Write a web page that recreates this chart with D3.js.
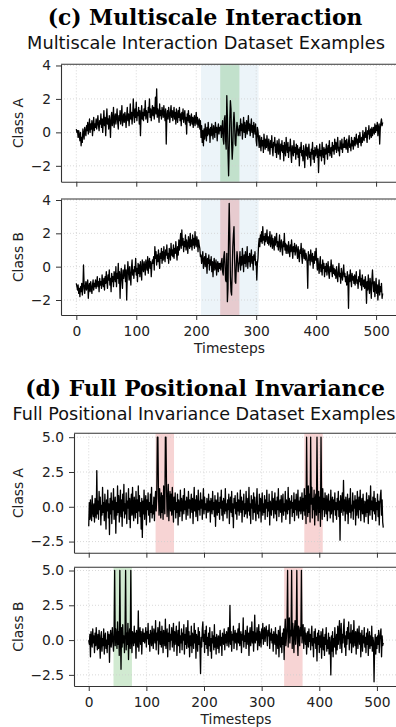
<!DOCTYPE html>
<html>
<head>
<meta charset="utf-8">
<script src="https://cdn.jsdelivr.net/npm/d3@7"></script>
<style>
  body { margin: 0; background: #fff; }
</style>
</head>
<body>
<div id="chart"></div>
<script>
// ---- data ----
const timestepTicks = [0, 100, 200, 300, 400, 500];
const multiscaleYTicks = [-2, 0, 2, 4];
const positionalYTicks = [-2.5, 0, 2.5, 5];

// shaded windows: [start, end, kind]
const multiscaleSpansA = [[208, 304, "context"], [240, 272, "motif1"]];
const multiscaleSpansB = [[208, 304, "context"], [240, 272, "motif2"]];
const positionalSpansA = [[116, 148, "motif2"], [374, 406, "motif2"]];
const positionalSpansB = [[43, 75, "motif1"], [339, 371, "motif2"]];

const multiscaleA = [
  0.2, 0.0, 0.1, -0.3, 0.1, -0.2, -0.5, 0.0, -0.8, -0.3, -0.6, 0.2, -0.1, -0.4, 0.3, 0.0,
  -0.2, 0.4, 0.1, 0.6, -0.1, 0.3, 0.8, 0.0, 0.5, 0.2, 0.7, -0.2, 0.4, 0.9, 0.1, 0.5,
  0.3, 0.8, 0.2, 0.6, 1.0, 0.4, 0.1, 0.7, 0.5, 1.1, 0.3, 0.8, 0.0, 0.6, 1.3, 0.4,
  0.9, -0.2, 0.7, 1.4, 0.5, 0.8, 0.2, 1.0, 0.6, -0.3, 0.9, 1.2, 0.4, 0.7, 1.5, 0.3,
  0.8, 1.1, 0.5, 0.9, 1.4, 0.6, 0.2, 1.0, 0.7, 1.3, 0.5, 0.9, 1.6, 0.4, 0.8, 1.1,
  0.6, 1.2, 0.9, 0.3, 1.0, 1.5, 0.7, 1.1, 0.4, 0.9, 1.7, 0.8, 1.2, 0.5, 1.0, 2.0,
  1.1, 0.6, 1.4, 0.9, 1.8, 0.7, 1.2, 1.0, 1.5, 0.5, 1.3, -0.2, 1.0, 1.6, 0.8, 1.2,
  0.7, 1.4, 1.0, 1.9, 0.8, 1.3, 1.1, 0.6, 1.5, 1.2, 2.0, 0.9, 1.4, 0.7, 1.2, 1.6,
  1.0, 1.5, 0.8, 1.3, 2.1, 1.1, 2.6, 0.9, 1.4, 1.2, 0.6, 1.7, 1.0, 1.3, 0.8, 1.5,
  1.2, 0.9, 1.6, 1.1, 0.7, 1.4, -0.7, 1.0, 1.3, 0.8, 1.5, 1.1, 0.6, 1.2, 1.6, 0.9,
  1.3, 0.7, 1.1, 1.5, 0.8, 1.2, 0.5, 1.4, 1.0, 0.6, 1.3, 0.9, 1.5, 0.7, 1.1, 0.4,
  1.2, 0.8, 1.4, 0.6, 1.0, 1.3, 0.5, 0.9, -0.1, 1.1, 0.7, 1.3, 0.6, 1.0, 0.4, 0.8,
  1.1, 0.5, 0.9, 0.3, 0.8, 1.0, 0.4, 0.7, 1.2, 0.5, 0.9, 0.3, 0.6, 0.8, 0.2, 0.7,
  -0.3, 0.4, -0.6, 0.1, -0.8, 0.2, -0.4, 0.5, 0.0, -0.5, 0.3, -0.2, 0.6, -0.1, 0.2, -0.6,
  0.3, -0.2, 0.5, 0.0, -0.4, 0.4, 0.1, -0.3, 0.6, 0.0, 0.3, -0.5, 0.2, 0.5, -0.1, 0.3,
  0.1, 0.4, -0.3, 0.2, 0.7, -0.4, -0.7, 0.8, 1.0, -0.5, -1.0, 2.2, 0.9, -1.2, -2.6, -1.0,
  0.8, 1.9, 1.4, -0.6, -1.6, -0.9, 0.6, 1.2, 0.5, -0.7, -0.8, 0.1, 0.6, 0.2, -0.2, 0.1,
  0.4, -0.2, 0.8, 0.1, 0.5, -0.4, 0.3, 0.9, 0.0, 0.6, -0.3, 0.2, 0.7, -0.1, 0.4, 1.0,
  0.1, 0.5, -0.2, 0.3, 0.8, 0.0, 0.4, -0.3, 0.6, 0.2, -0.1, 0.5, -0.5, -0.8, 0.3, 0.1,
  -0.4, -0.9, -0.2, -0.7, -1.1, -0.3, -0.8, -0.5, -1.2, -0.1, -0.6, -1.0, -0.4, -0.9, -0.2, -0.7,
  -1.1, -0.4, -0.8, -1.3, -0.5, -0.9, -0.2, -1.0, -1.4, -0.6, -0.8, -0.3, -1.2, -0.7, -1.5, -0.5,
  -0.9, -1.3, -0.4, -1.0, -1.6, -0.7, -1.1, -0.5, -1.2, -0.8, -1.7, -0.6, -1.0, -1.4, -0.3, -0.9,
  -1.2, -0.6, -1.5, -0.9, -1.1, -0.4, -1.3, -1.8, -0.8, -1.0, -1.4, -0.5, -1.2, -0.9, -1.6, -0.7,
  -1.3, -0.8, -1.5, -1.0, -2.0, -0.9, -1.2, -0.6, -1.4, -1.1, -1.7, -0.8, -1.3, -2.1, -1.0, -0.7,
  -1.4, -0.9, -1.6, -1.1, -0.7, -1.5, -1.2, -2.0, -1.0, -1.3, -0.6, -1.6, -1.1, -1.8, -0.9, -1.4,
  -1.2, -0.8, -1.5, -1.0, -2.4, -1.3, -0.7, -1.4, -1.1, -1.7, -0.6, -1.2, -1.5, -0.9, -1.9, -1.0,
  -1.3, -0.7, -1.1, -1.6, -0.8, -1.2, -0.5, -1.4, -1.0, -0.9, -1.5, -0.6, -1.1, -0.8, -1.3, -0.4,
  -1.0, -0.6, -1.2, -0.8, -0.3, -1.1, -0.9, -1.4, -0.5, -0.8, -1.0, -0.4, -1.2, -0.7, -0.9, -0.3,
  -0.9, -0.5, -1.0, -0.4, -0.8, -1.2, -0.6, -0.2, -0.9, -0.7, -1.1, -0.3, -0.8, -0.5, -1.0, -0.6,
  -0.3, -0.8, -0.5, -0.1, -0.7, -0.4, -0.9, -0.2, -0.6, 0.0, -0.5, -0.8, -0.3, -0.6, 0.1, -0.4,
  -0.5, 0.0, -0.3, 0.3, -0.2, -0.6, 0.1, -0.1, 0.4, -0.4, 0.0, 0.2, -0.3, 0.3, -0.2, 0.1,
  0.3, -0.1, 0.5, 0.0, 0.4, 0.1, 0.6, -0.2, 0.3, 0.5, -0.7, 0.2, 0.6, 0.8, 0.4, 0.6
];

const multiscaleB = [
  -1.0, -1.2, -1.4, -1.1, -1.6, -1.3, -1.8, -1.2, -1.5, -1.0, -1.7, -1.3, 0.1, -1.1, -1.6, -1.2,
  -0.9, -1.4, -1.1, -0.8, -1.9, -1.2, -1.0, -1.5, -0.9, -1.3, -1.6, -1.1, -0.8, -1.4, -1.0, -1.2,
  -0.8, -1.3, -1.0, -0.6, -1.2, -0.9, -1.5, -0.7, -1.1, -0.9, -1.3, -0.5, -1.0, -1.2, -0.7, -1.4,
  -0.6, -1.0, -0.3, -0.9, -1.3, -0.5, -0.8, -0.2, -1.1, -0.7, -1.5, -0.4, -0.9, -0.6, -1.2, -0.3,
  -0.5, -0.9, 0.0, -1.2, -0.4, -0.7, 0.2, -1.0, -0.3, -1.9, -0.6, -0.1, -0.8, -1.3, -0.2, -0.7,
  -0.4, 0.1, -0.9, -0.2, -2.0, -0.5, 0.3, -0.3, -0.8, 0.0, -0.6, -1.1, -0.1, 0.4, -0.5, -0.2,
  -0.7, 0.0, -0.3, 0.5, -0.5, -0.1, -0.9, 0.2, -0.4, 0.1, -0.6, 0.3, -0.2, -0.8, 0.4, 0.0,
  -0.3, 0.3, 0.0, -0.5, 0.4, 0.1, -0.2, 0.6, -0.4, 0.2, 0.5, -0.1, 0.3, -0.6, 0.1, 0.4,
  0.2, 0.6, -0.2, 1.2, 0.5, 0.9, 0.1, 0.7, 0.3, 1.0, 0.4, -0.1, 0.8, 0.5, 1.1, 0.2,
  0.9, 0.4, 1.2, 0.6, 0.3, 1.0, 0.7, 1.3, 0.5, 0.8, 0.2, 1.1, 0.9, 0.4, 1.4, 0.7,
  1.0, 0.6, 1.3, 0.5, 1.1, 0.8, 1.5, 0.9, 0.4, 1.2, 0.7, 1.6, 1.0, 1.4, 2.0, 1.1,
  2.2, 1.3, 1.7, 0.9, 1.5, 1.2, 1.9, 1.0, 1.6, 1.3, 0.8, 1.8, 1.4, 1.1, 2.0, 1.2,
  1.6, 1.0, 1.9, 1.3, 1.7, 1.1, 2.1, 1.4, 1.2, 1.8, 1.5, 0.9, 1.6, 1.3, 1.1, 0.6,
  0.7, 0.2, 0.5, 0.9, -0.1, 0.4, 0.6, 0.0, 0.8, 0.3, -0.4, 0.5, 0.2, 0.7, -0.2, 0.4,
  0.1, 0.6, -0.3, 0.3, -0.6, 0.2, 0.5, -0.2, 0.0, 0.4, -0.5, 0.1, 0.3, -0.3, 0.2, -0.1,
  0.2, -0.2, 0.3, 0.5, -0.3, -0.5, 0.6, 0.9, 0.2, -0.8, -0.9, 0.8, -2.1, -1.3, 1.8, 3.8,
  2.0, -0.6, -1.5, -1.7, -0.3, 1.2, 1.9, 2.4, 0.5, -0.9, -1.0, 0.2, 0.9, 0.5, -0.3, 0.1,
  0.3, 0.9, -0.2, 0.6, 0.1, 1.1, 0.4, -0.3, 0.7, 0.2, 0.9, 0.0, 0.5, 1.2, -0.1, 0.6,
  0.3, 0.8, 0.0, 0.5, 1.0, 0.2, 0.6, -0.2, 0.7, 0.4, 0.9, 0.1, 0.3, -0.8, 0.2, 0.5,
  1.3, 1.7, 1.2, 1.9, 1.5, 2.1, 1.4, 2.4, 1.6, 1.8, 1.3, 2.0, 1.5, 1.7, 2.2, 1.4,
  1.8, 1.3, 1.6, 2.1, 1.2, 1.5, 1.9, 1.1, 1.7, 1.4, 1.0, 1.8, 1.3, 1.6, 2.0, 1.2,
  1.5, 1.0, 1.4, 1.9, 0.9, 1.3, 1.6, 1.1, 0.7, 1.5, 1.2, 2.0, 1.0, 1.4, 0.8, 1.3,
  1.2, 0.8, 1.5, 1.0, 0.6, 1.3, 0.9, 1.6, 1.1, 0.5, 1.2, 0.9, 1.4, 0.7, 1.0, 1.3,
  0.9, 0.5, 1.2, 0.7, 0.3, 1.0, 0.8, 1.4, 0.6, 0.2, 1.1, 0.9, 0.5, 1.0, 0.4, 0.8,
  0.6, 0.2, -1.3, 0.9, 0.4, 0.7, 0.1, 1.0, 0.5, 0.3, 0.8, -0.1, 0.6, 0.2, 0.9, 0.4,
  1.1, 0.3, -0.2, 0.5, 0.0, -0.4, 0.2, 0.6, -0.3, 0.1, -0.5, 0.4, -0.1, 0.2, -0.6, 0.0,
  -0.3, 0.2, -0.5, -0.1, 0.3, -0.4, -0.7, 0.0, -0.3, 0.4, -0.2, -0.6, 0.1, -0.4, -0.1, -0.5,
  -0.2, -0.7, 0.0, -0.5, -0.9, -0.3, 0.2, -0.6, -0.4, -1.0, -0.1, -0.5, -0.8, -0.3, 0.1, -0.6,
  -0.4, -0.9, -0.6, -1.1, -0.3, -0.8, -2.5, -0.5, -0.9, -0.2, -0.7, -1.2, -0.4, -0.8, -0.6, -1.0,
  -0.5, -1.1, -0.7, -0.3, -1.0, -0.8, -1.3, -0.6, -0.9, -0.2, -1.1, -0.7, -1.4, -0.5, -0.9, -1.2,
  -0.8, -1.3, -0.6, -1.0, -2.2, -0.9, -1.4, -0.5, -1.2, -1.6, -0.7, -1.1, -1.9, -0.8, -0.2, -1.0,
  -1.5, -0.9, -1.8, -1.2, -0.7, -1.6, -1.1, -2.0, -1.3, -0.8, -1.7, -1.2, -1.5, -1.0, -1.9, -1.6
];

const positionalA = [
  -1.4, 0.3, -0.9, 0.5, -0.6, -1.0, 0.8, -0.3, -0.7, 0.2, -1.1, 0.6, -0.4, -0.8, 2.6, -0.5,
  0.4, -0.9, 1.1, -0.2, 0.7, -1.3, 0.1, -0.6, 1.4, -0.4, 0.3, -1.0, 0.9, -0.1, -1.6, 0.5,
  -0.3, 1.2, -0.8, 0.2, -2.0, 0.6, -0.5, 1.0, -1.2, 0.4, -0.2, 1.3, -0.9, 0.1, 0.7, -1.9,
  0.3, -0.6, 1.5, -0.4, 0.8, -1.1, 0.0, 1.2, -0.7, 0.5, -1.4, 0.9, -0.3, 1.6, -0.8, 0.2,
  -0.5, 1.0, -1.2, 0.4, -0.1, 1.3, -0.9, 0.6, -1.5, 0.2, 0.9, -0.6, 1.4, -0.2, -1.0, 0.7,
  0.1, -0.8, 1.1, -0.4, 0.5, -1.2, 1.5, -0.3, 0.8, -0.7, 0.3, -1.6, 0.6, -2.2, 0.4, -0.5,
  1.2, -0.9, 0.2, 0.8, -1.3, 0.5, -0.2, 1.0, -0.6, 0.3, -1.1, 0.9, -0.4, 1.4, -0.8, 0.1,
  -0.5, 0.7, -1.0, 0.4, 1.1, -0.3, 0.6, 5.0, 5.0, 0.9, -0.6, 1.3, 0.2, -0.8, 1.0, -0.4,
  0.8, -0.9, 1.5, 0.3, -0.5, 5.0, 5.0, 1.2, -0.7, 0.6, 1.6, -1.0, 0.4, 1.1, -0.3, 0.9,
  -0.6, 1.4, 0.1, -1.1, 0.7, -0.2, 1.0, -0.8, 0.3, -0.4, 0.9, -1.3, 0.5, 0.0, -0.7, 1.2,
  -0.3, 0.6, -1.0, 0.2, 0.8, -0.5, 1.3, -0.2, 0.4, -0.9, 0.7, 0.1, -0.6, 1.1, -0.1, 0.5,
  -0.8, 0.3, 0.9, -0.4, 0.6, -1.2, 0.2, 1.4, -0.3, 0.5, -0.7, 0.8, 0.0, -1.0, 1.2, -0.2,
  0.4, -0.6, 1.0, -0.1, 0.5, -0.9, 0.3, 1.3, -0.5, 0.7, -0.2, 0.2, -0.8, 0.6, 0.0, -0.4,
  0.9, -0.3, 0.4, -1.1, 0.6, 0.1, -0.5, 1.1, -0.2, 0.3, -0.7, 0.8, -1.4, 0.5, 0.2, -0.6,
  1.0, -0.4, 0.3, -0.9, 0.7, -0.1, 1.2, -0.6, 0.4, -1.0, 0.6, 0.0, -0.5, 1.3, -0.3, 0.2,
  -0.8, 0.5, -0.2, 0.9, -1.2, 0.3, 0.7, -0.4, 1.1, -0.7, 0.2, -1.5, 0.6, -0.1, 0.8, -0.5,
  0.3, -0.9, 1.0, -0.3, 0.5, -0.6, 0.1, 1.2, -0.4, 0.7, -1.1, 0.4, -0.2, 0.9, -0.7, 0.2,
  -0.5, 1.1, 0.0, -0.8, 0.6, -0.3, 1.4, -0.6, 0.2, -1.2, 0.8, -0.1, 0.5, -0.9, 1.0, -0.4,
  0.7, -0.2, -1.0, 0.4, 1.3, -0.5, 0.1, -0.8, 0.9, -0.3, 0.6, -1.1, 0.3, 1.0, -0.6, 0.2,
  -0.4, 0.8, -0.9, 0.5, -0.1, 1.2, -0.7, 0.3, -0.3, 0.9, -1.3, 0.4, 0.0, -0.6, 1.1, -0.2,
  0.6, -0.8, 0.2, 1.0, -0.5, 0.4, -1.0, 0.7, -0.2, 1.3, -0.7, 0.1, 0.5, -0.4, 0.8, -1.1,
  0.3, 0.9, -0.6, 0.2, -0.3, 1.1, -0.9, 0.5, 0.0, -0.5, 1.4, -0.2, 0.6, -1.2, 0.4, -0.1,
  0.8, -0.7, 0.3, -0.4, 1.0, -1.0, 0.5, -0.2, 0.9, -0.6, 0.2, 1.2, -0.8, 0.4, -0.3, 0.7,
  -0.5, 0.1, 1.0, -0.9, 0.6, -0.3, 1.3, -0.6, 0.8, -1.2, 5.0, 0.4, -0.7, 1.5, -0.4, 0.9,
  -1.1, 5.0, 0.2, 1.4, -0.8, 0.6, -0.2, 1.2, -1.3, 0.5, 0.9, -0.6, 5.0, 0.3, -1.0, 1.1,
  -0.4, 0.7, -1.4, 5.0, 0.5, -0.9, 1.3, -0.2, 0.6, -0.7, 1.0, 0.1, -0.5, 0.8, -1.0, 0.3,
  0.9, -0.3, 0.4, -0.8, 1.2, -0.5, 0.2, 0.7, -1.1, 0.5, -0.2, 1.0, -0.6, 0.3, -0.9, 0.6,
  -0.2, 1.1, -0.7, 0.4, -2.4, 0.8, -0.4, 0.2, 1.0, -0.6, 1.9, -0.3, 0.5, -1.0, 0.7, 0.0,
  -0.5, 0.9, -1.2, 0.3, 0.6, -0.4, 1.3, -0.8, 0.1, -0.3, 1.0, -0.9, 0.4, -0.1, 0.8, -1.3,
  0.5, -0.6, 1.1, 0.0, -0.8, 0.7, -0.2, 1.2, -1.0, 0.3, 0.6, -0.5, 0.9, -0.3, -1.1, 0.4,
  0.2, -0.7, 1.0, -0.4, 0.5, -1.2, 0.8, 0.1, -0.6, 1.5, -0.2, 0.4, -0.9, 0.7, -0.3, 1.1,
  -0.5, 0.6, -1.0, 0.3, -0.2, 0.9, -0.7, 0.4, -1.3, 0.2, 0.8, 1.2, -0.6, 0.5, -1.1, -1.5
];

const positionalB = [
  0.0, -0.3, 0.4, -1.2, 0.6, 0.1, -0.5, 0.8, -0.2, 0.3, -0.9, 0.5, -0.4, 0.9, -0.1, -0.7,
  0.4, -0.6, 0.7, -0.2, -1.3, 0.3, 0.6, -0.8, 0.1, -0.4, 0.8, -1.0, 0.2, 0.5, -0.6, 0.0,
  -0.9, 0.6, -0.3, 0.4, -1.6, 0.2, 0.7, -0.5, 0.1, 0.9, -0.2, -0.8, 0.5, 5.0, -0.4, 0.8,
  0.2, -0.6, 1.3, -0.3, 0.6, -1.1, 5.0, 0.4, -2.1, 0.9, -0.5, 1.1, -0.2, 0.3, -0.9, 0.7,
  5.0, -0.7, 0.5, -0.3, 1.2, -1.4, 0.2, 0.8, -0.6, 5.0, 0.1, -0.9, 0.6, 0.3, -0.4, 1.0,
  -0.2, 0.5, -1.3, 0.7, 0.0, -0.5, 2.1, -0.8, 0.4, 0.9, -0.3, 0.6, -1.0, 0.2, 0.8, -0.1,
  0.5, -0.2, 0.3, 0.9, -0.5, 0.6, 0.1, 1.2, -0.3, 0.4, -0.8, 0.7, 0.2, -0.4, 1.0, 0.0,
  -0.6, 0.8, 0.3, -0.2, 1.4, -0.7, 0.5, 0.0, 0.9, -1.0, 0.4, 1.3, -0.3, 0.6, -0.5, 1.0,
  0.2, -0.9, 0.7, 0.1, -0.4, 1.5, -0.6, 0.3, 0.8, -1.2, 0.5, -0.1, 1.1, -0.7, 0.4, 0.0,
  0.9, -0.5, 0.2, 1.2, -0.8, 0.6, -0.3, 0.4, 1.0, -1.1, 0.1, 0.7, -0.4, 1.3, -0.9, 0.3,
  -0.2, 0.8, -0.7, 0.5, 0.0, 1.1, -1.0, 0.4, -0.3, 0.9, -0.6, 0.2, 1.4, -0.5, 0.6, -1.2,
  0.3, -0.4, 1.0, -0.9, 0.5, 0.1, -0.6, 1.2, -0.2, 0.7, -1.3, 0.4, 0.0, -0.8, 0.9, -0.3,
  0.6, -0.7, -2.4, 0.2, -0.5, 0.8, 1.3, -0.1, 0.4, -0.9, 0.7, -0.3, 1.0, -0.6, 0.2, -1.1,
  0.5, -0.4, 0.9, -0.8, 0.1, -1.3, 0.6, -0.2, 0.3, -0.7, 1.1, -0.5, 0.2, -1.0, 0.4, -0.1,
  -0.6, 0.3, -0.9, 0.0, 0.7, -0.4, 0.2, -1.1, 0.5, 0.1, -0.3, 0.8, -0.7, 0.4, -0.2, 0.6,
  -0.4, 0.3, 0.9, -0.5, 0.1, 2.5, -0.3, 0.6, -0.8, 0.4, 0.0, 1.0, -0.6, 0.2, 0.7, -0.2,
  0.5, -0.7, 0.3, 0.8, -0.2, 1.2, -0.4, 0.1, 0.6, -0.9, 0.4, 0.0, 1.6, -0.5, 0.3, -0.1,
  0.7, -0.6, 0.2, 1.0, -0.3, 0.5, -1.1, 0.4, 0.9, -0.4, 0.1, 1.3, -0.2, 0.6, -0.8, 0.3,
  1.8, -0.2, 0.5, 0.0, 0.9, -0.7, 0.3, 1.1, -0.4, 0.6, 0.2, -0.5, 0.8, 0.1, 1.2, -0.3,
  0.4, 0.9, -0.1, 0.6, 1.0, 0.2, -0.4, 0.7, 0.3, 1.1, -0.6, 0.5, 0.0, 0.8, -0.2, 0.4,
  -0.8, 0.6, 0.1, -0.3, 0.9, -1.0, 0.4, 0.2, -0.6, 0.7, -1.2, 0.3, 1.0, -0.5, 0.2, -0.9,
  0.5, -0.3, 0.8, -1.4, 0.6, 1.5, -0.4, 0.2, 1.0, 5.0, -0.5, 0.9, 1.6, -0.2, 0.7, 0.3,
  5.0, -0.6, 1.2, 0.4, -0.9, 0.8, 1.4, -0.3, 0.6, 5.0, 0.1, -1.1, 1.0, 0.5, -0.4, 0.9,
  0.3, 5.0, -0.2, 0.7, 1.1, -0.6, 0.4, 0.9, -0.3, 0.5, -1.0, 0.2, 0.6, -0.5, 0.8, -0.1,
  0.4, -0.7, 0.3, 1.0, -0.4, 0.1, -1.2, 0.6, -0.2, 0.8, -0.6, 0.2, -1.5, 0.5, -0.3, 0.7,
  -0.9, 0.3, -0.5, 0.6, -1.3, 0.1, 0.8, -0.7, 0.2, -1.1, 0.4, -0.3, 0.9, -0.8, 0.0, -0.6,
  0.5, -1.0, 0.2, -0.4, -2.5, 0.3, -0.8, 0.6, -1.2, 0.1, -0.5, 0.9, -0.2, -1.0, 0.4, -0.7,
  1.0, -0.3, 0.5, 1.4, -0.6, 0.2, 1.2, -0.9, 0.4, -0.2, 0.8, 1.5, -0.5, 0.3, -1.1, 0.6,
  -0.3, 0.9, 0.1, 1.3, -0.7, 0.5, -0.2, 1.1, -0.9, 0.3, 0.7, -0.5, 1.4, 0.0, -0.4, 0.6,
  -1.0, 0.4, 0.8, -0.6, 0.2, 1.0, -0.3, 0.5, -1.2, 0.1, 0.7, -0.8, 0.3, -0.2, 0.9, -0.5,
  0.2, -0.9, 0.5, -0.3, 0.8, -1.1, 0.0, 0.6, -0.6, 0.3, -0.4, 1.0, -0.8, 0.2, -0.1, -3.0,
  -0.5, 0.4, -1.0, 0.2, -0.6, 0.3, -0.3, 0.7, -0.9, 0.1, 0.5, 0.8, -1.2, 0.3, -0.4, -0.2
];

// ---- chart ----
(function() {
  const W = 396, H = 727;
  const FS = 13.8; // tick + axis label size
  const svg = d3.select("#chart").append("svg")
    .attr("width", W).attr("height", H)
    .style("font-family", "'DejaVu Sans', sans-serif");

  const spanFill = { context: "#9ecae1", motif1: "#2ca02c", motif2: "#d62728" };
  const spanAlpha = { context: 0.2, motif1: 0.22, motif2: 0.2 };
  const xDomain = [-25.55, 536.55];

  const fitText = (sel, target) => {
    const w = sel.node().getComputedTextLength();
    const fs = parseFloat(sel.attr("font-size"));
    sel.attr("font-size", fs * target / w);
    return fs * target / w;
  };

  // titles
  const t1 = svg.append("text").attr("x", 205).attr("y", 25).attr("text-anchor", "middle")
    .attr("font-family", "'DejaVu Serif', serif").attr("font-weight", 700).attr("font-size", 20)
    .text("(c) Multiscale Interaction");
  fitText(t1, 315);
  const s1 = svg.append("text").attr("x", 206).attr("y", 48.5).attr("text-anchor", "middle")
    .attr("font-size", 17).attr("fill", "#111")
    .text("Multiscale Interaction Dataset Examples");
  const subSize = fitText(s1, 358);
  const t2 = svg.append("text").attr("x", 205).attr("y", 396).attr("text-anchor", "middle")
    .attr("font-family", "'DejaVu Serif', serif").attr("font-weight", 700).attr("font-size", 20)
    .text("(d) Full Positional Invariance");
  fitText(t2, 360);
  const s2 = svg.append("text").attr("x", 204).attr("y", 420).attr("text-anchor", "middle")
    .attr("font-size", subSize).attr("fill", "#111")
    .text("Full Positional Invariance Dataset Examples");
  if (s2.node().getComputedTextLength() > 383) fitText(s2, 383);

  const panels = [
    { vals: multiscaleA, spans: multiscaleSpansA, label: "Class A", left: 61, top: 64.3, bottom: 181.7,
      yDomain: [-2.95, 4.07], yTicks: multiscaleYTicks, fmt: d3.format("d"), xLabels: false },
    { vals: multiscaleB, spans: multiscaleSpansB, label: "Class B", left: 61, top: 199, bottom: 315,
      yDomain: [-2.9, 4.06], yTicks: multiscaleYTicks, fmt: d3.format("d"), xLabels: true },
    { vals: positionalA, spans: positionalSpansA, label: "Class A", left: 74, top: 433.3, bottom: 552.7,
      yDomain: [-3.3, 5.28], yTicks: positionalYTicks, fmt: d3.format(".1f"), xLabels: false },
    { vals: positionalB, spans: positionalSpansB, label: "Class B", left: 74, top: 567.3, bottom: 686,
      yDomain: [-3.3, 5.23], yTicks: positionalYTicks, fmt: d3.format(".1f"), xLabels: true }
  ];
  const right = 398;

  panels.forEach(p => {
    const x = d3.scaleLinear().domain(xDomain).range([p.left, right]);
    const y = d3.scaleLinear().domain(p.yDomain).range([p.bottom, p.top]);
    const g = svg.append("g");

    // shaded windows
    g.selectAll("rect.span").data(p.spans).join("rect").attr("class", "span")
      .attr("x", d => x(d[0])).attr("width", d => x(d[1]) - x(d[0]))
      .attr("y", p.top).attr("height", p.bottom - p.top)
      .attr("fill", d => spanFill[d[2]]).attr("fill-opacity", d => spanAlpha[d[2]]);

    // dotted grid
    g.selectAll("line.gx").data(timestepTicks).join("line").attr("class", "gx")
      .attr("x1", d => x(d)).attr("x2", d => x(d)).attr("y1", p.top).attr("y2", p.bottom)
      .attr("stroke", "#cfcfcf").attr("stroke-width", 0.8).attr("stroke-dasharray", "1,2");
    g.selectAll("line.gy").data(p.yTicks).join("line").attr("class", "gy")
      .attr("x1", p.left).attr("x2", right).attr("y1", d => y(d)).attr("y2", d => y(d))
      .attr("stroke", "#cfcfcf").attr("stroke-width", 0.8).attr("stroke-dasharray", "1,2");

    // series
    const line = d3.line().x((d, i) => x(i)).y(d => y(d));
    g.append("path").datum(p.vals).attr("d", line)
      .attr("fill", "none").attr("stroke", "#000").attr("stroke-width", 1.3)
      .attr("stroke-linejoin", "round");

    // axes
    const ya = g.append("g").attr("transform", `translate(${p.left},0)`)
      .call(d3.axisLeft(y).tickValues(p.yTicks).tickFormat(p.fmt).tickSize(5).tickPadding(5).tickSizeOuter(0));
    const xa = g.append("g").attr("transform", `translate(0,${p.bottom})`)
      .call(d3.axisBottom(x).tickValues(timestepTicks).tickSize(5).tickPadding(6).tickSizeOuter(0)
        .tickFormat(p.xLabels ? d3.format("d") : () => ""));
    [ya, xa].forEach(a => {
      a.selectAll("text").attr("font-size", FS).attr("fill", "#222").attr("font-family", "'DejaVu Sans', sans-serif");
      a.selectAll("line").attr("stroke", "#333");
      a.select(".domain").attr("stroke", "#333").attr("stroke-width", 1.1);
    });
    g.append("line").attr("x1", p.left).attr("x2", right).attr("y1", p.top).attr("y2", p.top)
      .attr("stroke", "#333").attr("stroke-width", 1.1);

    // labels
    g.append("text").attr("transform", `translate(23,${(p.top + p.bottom) / 2}) rotate(-90)`)
      .attr("text-anchor", "middle").attr("font-size", FS).attr("fill", "#222").text(p.label);
    if (p.xLabels) {
      g.append("text").attr("x", (p.left + right) / 2).attr("y", p.bottom + 38)
        .attr("text-anchor", "middle").attr("font-size", FS).attr("fill", "#222").text("Timesteps");
    }
  });
})();
</script>
</body>
</html>
